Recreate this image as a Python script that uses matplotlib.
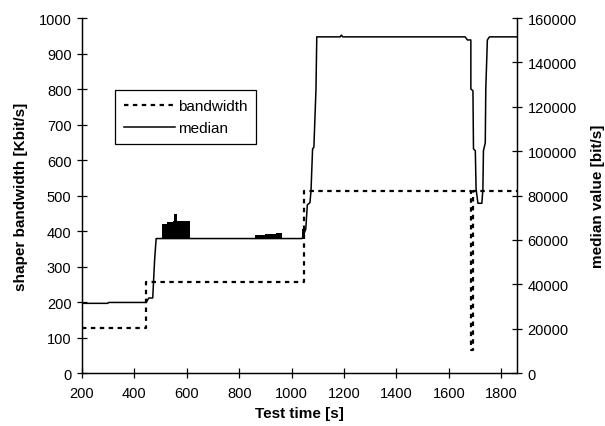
import matplotlib
matplotlib.use("Agg")
import matplotlib.pyplot as plt

plt.rcParams['font.family'] = ['Liberation Sans', 'DejaVu Sans']

# shaper bandwidth [Kbit/s], step changes
bw_t = [200, 443, 1048, 1683, 1692, 1860]
bw_val = [128, 256, 512, 64, 512, 512]

# median value [bit/s]
med_t = [200, 298, 302, 445, 455, 470, 477, 483, 1040, 1054, 1060, 1070, 1074, 1080, 1085,
         1093, 1096, 1185, 1190, 1195, 1662, 1671, 1684, 1684, 1692, 1694, 1701, 1704,
         1711, 1726, 1730, 1732, 1739, 1741, 1747, 1755, 1860]
med_val = [31400, 31400, 31800, 31800, 33800, 33800, 50600, 60600, 60600, 64800, 75800,
           76800, 82100, 101000, 101800, 128000, 151500, 151500, 152300, 151500, 151500,
           150100, 150100, 128000, 127200, 101000, 100200, 82900, 76500, 76500, 82900,
           100200, 103700, 128000, 150100, 151500, 151500]

# bursts where the median oscillates quickly (drawn as filled blocks)
burst_t = [507, 523, 546, 552, 561, 612]
burst_top = [67200, 68200, 68300, 71700, 68600, 68600]
burst2_t = [861, 900, 940, 962]
burst2_top = [62200, 62600, 62900, 62900]
burst3_t = [1039, 1052]
burst3_top = [64800, 64800]
base_val = 60600

fig = plt.figure(figsize=(6.05, 4.27), dpi=100)
ax = fig.add_axes([0.1355, 0.1241, 0.719, 0.8314])
ax2 = ax.twinx()

l1, = ax.plot(bw_t, bw_val, drawstyle='steps-post', color='black', lw=1.6,
              linestyle=(0, (2, 2)), label='bandwidth')
l2, = ax2.plot(med_t, med_val, color='black', lw=1.1, label='median')
for bt, btop in [(burst_t, burst_top), (burst2_t, burst2_top), (burst3_t, burst3_top)]:
    ax2.fill_between(bt, base_val, btop, step='post', color='black', lw=0)

ax.set_xlim(200, 1860)
ax.set_ylim(0, 1000)
ax2.set_ylim(0, 160000)
ax.set_xticks(range(200, 1801, 200))
ax.set_yticks(range(0, 1001, 100))
ax2.set_yticks(range(0, 160001, 20000))

for a in (ax, ax2):
    a.spines['top'].set_visible(False)
    a.tick_params(direction='inout', length=7, width=0.9, labelsize=10.5, color='black')
    for s in a.spines.values():
        s.set_linewidth(0.9)
ax.tick_params(axis='x', pad=6)
ax.tick_params(axis='y', pad=4)
ax2.tick_params(axis='y', pad=4)

ax.set_xlabel('Test time [s]', fontsize=11, fontweight='bold', labelpad=4)
ax.set_ylabel('shaper bandwidth [Kbit/s]', fontsize=11, fontweight='bold', labelpad=8)
ax2.set_ylabel('median value [bit/s]', fontsize=11, fontweight='bold', labelpad=10)

leg = ax2.legend([l1, l2], ['bandwidth', 'median'], loc='upper left',
                 bbox_to_anchor=(0.076, 0.797), borderaxespad=0, fontsize=11,
                 fancybox=False, framealpha=1, edgecolor='black', handlelength=3.3,
                 handletextpad=0.2, borderpad=0.6, labelspacing=0.5)
leg.get_frame().set_linewidth(0.9)

fig.savefig('out.png', dpi=100)
